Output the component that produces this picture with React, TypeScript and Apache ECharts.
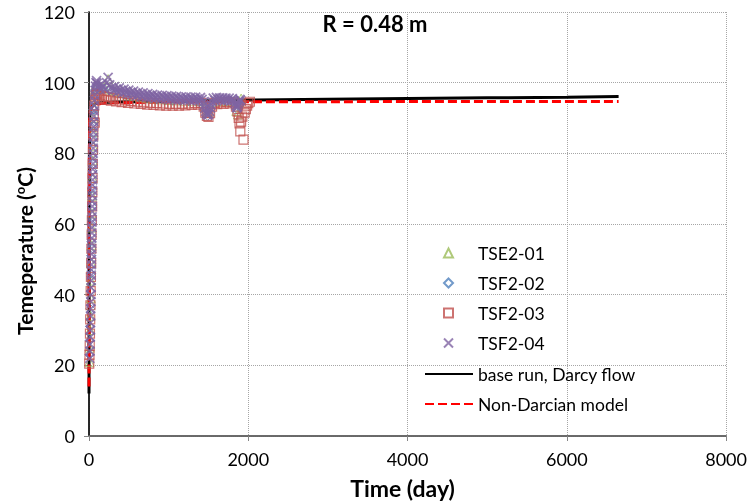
import React, { useEffect, useRef } from "react";
import * as echarts from "echarts";

const FONT = "Lato, Carlito, 'Open Sans', sans-serif";

const titleText = "R = 0.48 m";
const xAxisName = "Time (day)";
const yAxisName = "Temeperature ({s|o}C)";
const sensorNames = ["TSE2-01", "TSF2-02", "TSF2-03", "TSF2-04"];
const modelNames = ["base run, Darcy flow", "Non-Darcian model"];
const xRange = [0, 8000, 2000];
const yRange = [0, 120, 20];

// TSE2-01 (green triangles) [day, degC]
const tse201: number[][] = [
  [6, 21], [10, 25], [14, 30], [18, 34], [22, 39], [25, 44], [28, 49], [31, 54], [34, 59], [37, 63],
  [41, 68], [44, 73], [48, 78], [52, 82], [56, 86], [59, 90], [64, 93], [69, 96], [76, 98.2], [86, 99.3],
  [100, 99.2], [130, 98.8], [160, 98.5], [200, 98.4], [240, 101], [280, 98], [330, 97.6], [400, 97.1],
  [480, 96.6], [560, 96.2], [640, 95.9], [720, 95.7], [800, 95.5], [900, 95.3], [1000, 95.1], [1100, 95],
  [1200, 94.9], [1300, 94.9], [1400, 94.8], [1450, 93.5], [1480, 91.5], [1510, 91.8], [1550, 94.5],
  [1650, 94.8], [1750, 94.8], [1820, 94.6], [1850, 92], [1870, 91], [1890, 94.5], [1910, 95.5]
];

// TSF2-02 (blue diamonds)
const tsf202: number[][] = [
  [4, 23], [8, 27], [12, 31], [16, 36], [20, 41], [24, 46], [27, 51], [30, 55], [33, 60], [37, 65],
  [40, 70], [44, 75], [47, 79], [51, 84], [55, 88], [52, 92.4], [63, 92.4], [74, 89], [71, 96], [79, 98],
  [89, 99], [105, 99], [140, 98.6], [180, 98.3], [220, 98.6], [260, 98], [310, 97.5], [380, 97],
  [460, 96.6], [540, 96.2], [620, 95.9], [700, 95.7], [780, 95.4], [860, 95.2], [950, 95], [1050, 94.9],
  [1150, 94.8], [1250, 94.8], [1350, 94.7], [1420, 94.6], [1460, 92], [1490, 90.6], [1520, 92.5],
  [1560, 94.6], [1640, 94.7], [1720, 94.7], [1800, 94.6], [1840, 93], [1860, 92.3], [1880, 93.8], [1920, 94.5]
];

// TSF2-03 (red squares)
const tsf203: number[][] = [
  [3, 20.5], [6, 23], [9, 25.5], [12, 29], [15, 33], [18, 37], [21, 41], [24, 45], [27, 49], [30, 53],
  [33, 57], [36, 61], [39, 65], [42, 69], [45, 73], [48, 77], [51, 81], [54, 85], [57, 88], [61, 91],
  [66, 93.5], [72, 88.7], [78, 95.2], [85, 96.5], [95, 97],
  [110, 96.8], [125, 95.6], [145, 96.5], [165, 95.3], [190, 96.2], [215, 95.1], [245, 95.9], [275, 94.9],
  [305, 95.6], [340, 94.7], [375, 95.3], [410, 94.5], [450, 95], [490, 94.3], [530, 94.8], [570, 94.1],
  [610, 94.6], [650, 94], [690, 94.4], [730, 93.8], [770, 94.3], [810, 93.7], [850, 94.2], [890, 93.6],
  [930, 94.1], [970, 93.5], [1010, 94], [1050, 93.5], [1090, 94], [1130, 93.5], [1170, 94], [1210, 93.6],
  [1250, 94.1], [1290, 93.7], [1330, 94.2], [1370, 93.8], [1410, 94.3], [1440, 93.2], [1460, 91.5],
  [1480, 90.6], [1500, 90.3], [1520, 91.4], [1545, 93.2], [1575, 94.3], [1610, 93.9], [1650, 94.4],
  [1690, 94], [1730, 94.5], [1770, 94.1], [1810, 94.4], [1845, 93.2], [1865, 91.8], [1880, 90],
  [1890, 88.5], [1900, 86.2], [1910, 89], [1925, 90.4], [1940, 83.9], [1955, 91.5], [1970, 92.5],
  [1985, 93.5], [2000, 94.2], [2020, 94.6]
];

// TSF2-04 (purple crosses)
const tsf204: number[][] = [
  [10, 22], [12, 24], [14, 26], [16, 28], [17, 30], [19, 32], [20, 34], [21, 36], [23, 38], [25, 40],
  [26, 42], [27, 44], [28, 45.5], [29, 47], [30, 48.5], [31, 50], [32, 51.5], [33, 53], [34, 54.5],
  [35, 56], [36, 57.5], [37, 59], [38, 60.5], [39, 62], [40, 63.5], [41, 65], [42, 66.5], [43, 68],
  [44, 69.5], [45, 71], [46, 72.5], [47, 74], [48, 75.5], [49, 77], [50, 78.5], [51, 80], [52, 81.5],
  [54, 83], [55, 84.5], [56, 86], [58, 87.5], [60, 89], [62, 90.5], [64, 92], [67, 93.5], [70, 95],
  [73, 96.5], [77, 97.8], [82, 99], [88, 100], [95, 100.6],
  [100, 99.8], [120, 99], [140, 98.2], [160, 99.6], [180, 98.8], [200, 98], [220, 100], [240, 101.5],
  [260, 99.4], [280, 98.6], [300, 97.8], [320, 98.9], [340, 98.1], [360, 97.4], [380, 98.5], [400, 97.8],
  [420, 97.1], [440, 98.2], [460, 97.5], [480, 96.8], [500, 97.9], [520, 97.2], [540, 96.6], [560, 97.6],
  [580, 96.9], [600, 96.3], [620, 97.3], [640, 96.7], [660, 96.1], [680, 97.1], [700, 96.5], [720, 95.9],
  [740, 96.9], [760, 96.3], [780, 95.8], [800, 96.7], [820, 96.1], [840, 95.6], [860, 96.5], [880, 96],
  [900, 95.5], [920, 96.4], [940, 95.9], [960, 95.4], [980, 96.3], [1000, 95.8], [1020, 95.3], [1040, 96.2],
  [1060, 95.7], [1080, 95.2], [1100, 96.1], [1120, 95.6], [1140, 95.1], [1160, 96], [1180, 95.5],
  [1200, 95.1], [1220, 96], [1240, 95.5], [1260, 95], [1280, 95.9], [1300, 95.4], [1320, 95], [1340, 95.9],
  [1360, 95.4], [1380, 94.9], [1400, 95.8], [1420, 95.3],
  [1435, 94.5], [1445, 93.6], [1455, 92.7], [1465, 91.9], [1475, 91.2], [1490, 90.8], [1505, 91.1],
  [1515, 91.9], [1525, 92.8], [1535, 93.7], [1545, 94.6], [1560, 95.6],
  [1580, 95], [1600, 95.8], [1620, 95.2], [1640, 95.7], [1660, 95.1], [1680, 95.7], [1700, 95], [1720, 95.6],
  [1740, 95], [1760, 95.6], [1780, 94.9], [1800, 95.5], [1820, 94.9], [1835, 94.2], [1845, 93.6],
  [1855, 92.9], [1865, 93.2], [1875, 93.9], [1885, 94.6], [1895, 95.3], [1905, 95]
];

// base run, Darcy flow (black solid)
const baseRun: number[][] = [
  [0, 12], [1, 30], [2, 50], [3, 65], [4, 75], [6, 83], [8, 88], [12, 91], [20, 92.5], [40, 93.5],
  [80, 94], [150, 94.3], [300, 94.5], [600, 94.6], [1000, 94.7], [1500, 94.9], [2000, 95.1],
  [3000, 95.3], [4000, 95.5], [5000, 95.7], [6000, 95.9], [6650, 96.1]
];

// Non-Darcian model (red dashed)
const nonDarcian: number[][] = [
  [0, 14], [1, 32], [2, 52], [3, 66], [4, 76], [6, 84], [8, 88.5], [12, 91], [20, 92.5], [40, 93.3],
  [80, 93.8], [150, 94.1], [300, 94.3], [600, 94.4], [1000, 94.5], [2000, 94.6], [3000, 94.6],
  [4000, 94.7], [5000, 94.7], [6000, 94.7], [6650, 94.7]
];

const colors = ["#9BBB59", "#4F81BD", "#C0504D", "#8064A2", "#000000", "#FF0000"];

export default function App() {
  const ref = useRef<HTMLDivElement>(null);
  useEffect(() => {
    const chart = echarts.init(ref.current!, null, { renderer: "svg" });
    const hollow = (c: string, w = 1) => ({ color: "rgba(0,0,0,0)", borderColor: c, borderWidth: w });
    const axisFmt = (v: number) => String(v);
    chart.setOption({
      animation: false,
      title: {
        text: titleText,
        left: "center",
        top: 7,
        textStyle: { fontFamily: FONT, fontSize: 22, fontWeight: "bold", color: "#000" },
      },
      grid: { left: 89, right: 16, top: 12, bottom: 67 },
      legend: [
        {
          orient: "vertical",
          left: 443,
          top: 243,
          padding: 0,
          itemWidth: 9,
          itemHeight: 9,
          itemGap: 10,
          data: sensorNames,
          textStyle: { fontFamily: FONT, fontSize: 17.5, color: "#000", lineHeight: 20, padding: [0, 0, 0, 20] },
        },
        {
          orient: "vertical",
          left: 424,
          top: 364,
          padding: 0,
          itemWidth: 48,
          itemHeight: 9,
          itemGap: 10,
          data: modelNames.map((n) => ({ name: n, itemStyle: { opacity: 0 } })),
          textStyle: { fontFamily: FONT, fontSize: 17.5, color: "#000", lineHeight: 20 },
        },
      ],
      graphic: [
        {
          type: "text",
          x: 24,
          y: 251,
          rotation: Math.PI / 2,
          style: {
            text: yAxisName,
            fill: "#000",
            fontFamily: FONT,
            fontSize: 21,
            fontWeight: "bold",
            align: "center",
            verticalAlign: "middle",
            textAlign: "center",
            textVerticalAlign: "middle",
            rich: { s: { fontFamily: FONT, fontSize: 13, fontWeight: "bold", fill: "#000", verticalAlign: "top" } },
          },
        },
      ],
      xAxis: [
        {
          type: "value",
          min: xRange[0],
          max: xRange[1],
          interval: xRange[2],
          name: xAxisName,
          nameLocation: "middle",
          nameGap: 40,
          nameTextStyle: { fontFamily: FONT, fontSize: 23, fontWeight: "bold", color: "#000", padding: [0, 10, 0, 0] },
          axisLine: { show: true, lineStyle: { color: "#868686", width: 1.5 } },
          axisTick: { show: true, length: 5, lineStyle: { color: "#868686" } },
          axisLabel: { fontFamily: FONT, fontSize: 18, color: "#000", margin: 14, formatter: axisFmt },
          splitLine: { show: true, lineStyle: { type: "dotted", color: "#a6a6a6" } },
        },
        {
          type: "value",
          position: "top",
          min: xRange[0],
          max: xRange[1],
          axisLine: { show: true, lineStyle: { color: "#595959", width: 1.5 } },
          axisTick: { show: false },
          axisLabel: { show: false },
          splitLine: { show: false },
        },
      ],
      yAxis: [
        {
          type: "value",
          min: yRange[0],
          max: yRange[1],
          interval: yRange[2],
          axisLine: { show: true, lineStyle: { color: "#868686", width: 1.5 } },
          axisTick: { show: true, length: 5, lineStyle: { color: "#868686" } },
          axisLabel: { fontFamily: FONT, fontSize: 18, color: "#000", margin: 14, formatter: axisFmt },
          splitLine: { show: true, lineStyle: { type: "dotted", color: "#a6a6a6" } },
        },
        {
          type: "value",
          position: "right",
          min: yRange[0],
          max: yRange[1],
          axisLine: { show: true, lineStyle: { color: "#000", width: 1.5 } },
          axisTick: { show: false },
          axisLabel: { show: false },
          splitLine: { show: false },
        },
      ],
      series: [
        {
          name: modelNames[0], type: "line", data: baseRun, symbol: "none", showSymbol: false, z: 1,
          lineStyle: { color: colors[4], width: 3 }, itemStyle: { color: colors[4], opacity: 0 },
        },
        {
          name: modelNames[1], type: "line", data: nonDarcian, symbol: "none", showSymbol: false, z: 1,
          lineStyle: { color: colors[5], width: 3, type: [9, 4] }, itemStyle: { color: colors[5], opacity: 0 },
        },
        { name: sensorNames[0], type: "scatter", data: tse201, symbol: "triangle", symbolSize: 9, z: 3, itemStyle: hollow(colors[0]) },
        { name: sensorNames[1], type: "scatter", data: tsf202, symbol: "diamond", symbolSize: 9, z: 3, itemStyle: hollow(colors[1]) },
        { name: sensorNames[2], type: "scatter", data: tsf203, symbol: "rect", symbolSize: 9, z: 3, itemStyle: hollow(colors[2], 1.2) },
        { name: sensorNames[3], type: "scatter", data: tsf204, symbol: "path://M0,0L10,10M10,0L0,10", symbolSize: 9, z: 3, itemStyle: hollow(colors[3], 1.8) },
      ],
    });
    return () => chart.dispose();
  }, []);
  return <div ref={ref} style={{ position: "fixed", left: 0, top: 0, width: 750, height: 504 }} />;
}
